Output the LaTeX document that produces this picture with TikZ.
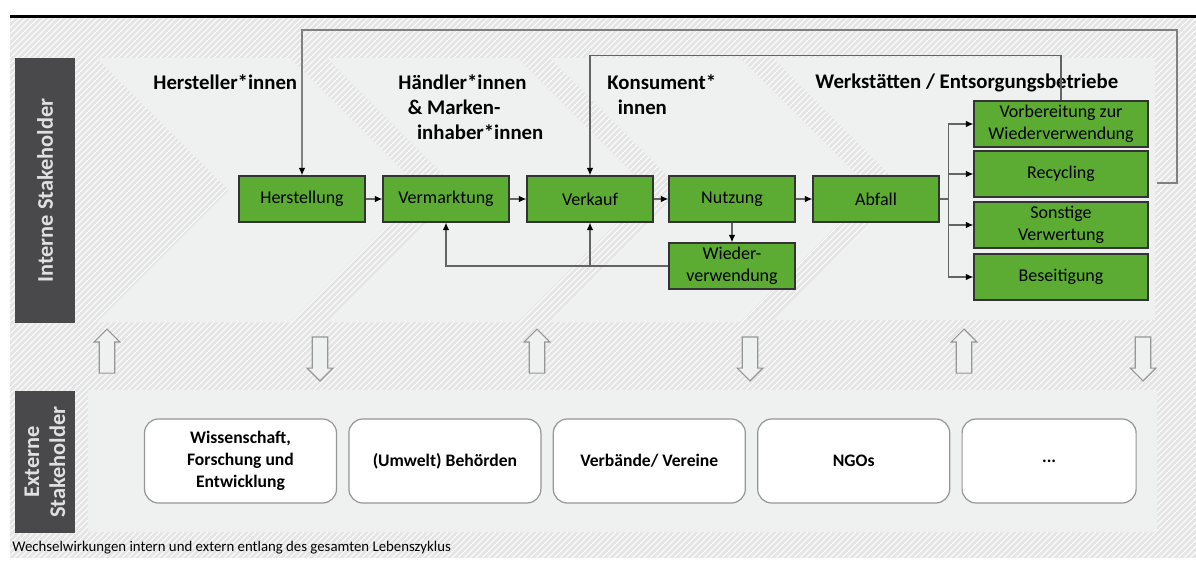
\documentclass[tikz,border=0pt]{standalone}
\usepackage{fontspec}
\setmainfont{Carlito}
\usetikzlibrary{shapes.arrows, arrows.meta, patterns, positioning}

\definecolor{boxgreen}{RGB}{92,172,52}
\definecolor{barcol}{RGB}{73,73,75}
\definecolor{panel}{RGB}{239,240,240}
\definecolor{hatchbase}{RGB}{229,229,229}
\definecolor{linegray}{RGB}{100,100,100}
\definecolor{framegray}{RGB}{150,150,150}

\tikzstyle{stage} = [rectangle, minimum width=63pt, minimum height=23pt, inner sep=1pt, text centered, align=center, draw=black!80, line width=0.6pt, fill=boxgreen, font=\fontsize{9}{11}\selectfont]
\tikzstyle{route} = [stage, minimum width=87pt]
\tikzstyle{extern} = [rectangle, rounded corners=7pt, minimum width=96pt, minimum height=42pt, align=center, draw=framegray, line width=0.6pt, fill=white, font=\bfseries\fontsize{8.8}{11}\selectfont]
\tikzstyle{role} = [align=left, anchor=north west, inner sep=0pt, font=\bfseries\fontsize{10.4}{12.5}\selectfont]
\tikzstyle{sidebar} = [rectangle, fill=barcol, text=white!88!black, inner sep=0pt, align=center, font=\bfseries\fontsize{11.2}{13}\selectfont]
\tikzstyle{blockup} = [single arrow, shape border rotate=90, draw=framegray, fill=panel, minimum height=22pt, minimum width=12.5pt, inner sep=3.6pt, single arrow head extend=2.5pt, line width=0.6pt]
\tikzstyle{blockdown} = [blockup, shape border rotate=270]
\tikzstyle{arrow} = [-{Latex[black, length=3.8pt, width=3.3pt]}, draw=linegray, line width=0.6pt]

\begin{document}
\begin{tikzpicture}[x=0.5pt, y=-0.5pt]
	\useasboundingbox (0,0) rectangle (1196,584);
	% background
	\fill[hatchbase] (10,18) rectangle (1196,558);
	\fill[pattern=north east lines, pattern color=white] (10,18) rectangle (1196,558);
	\draw[line width=1.5pt] (10,16) -- (1196,16);
	\fill[panel] (97,58) -- (290,58) -- (422,190) -- (290,322) -- (97,322) -- (229,190) -- cycle;
	\fill[panel] (327,58) -- (517,58) -- (649,190) -- (517,322) -- (327,322) -- (459,190) -- cycle;
	\fill[panel] (550,58) -- (740,58) -- (872,190) -- (740,322) -- (550,322) -- (682,190) -- cycle;
	\fill[panel] (773,58) -- (1155,58) -- (1155,320) -- (773,320) -- (905,190) -- cycle;
	\fill[panel] (88,390) rectangle (1157,532);

	\node (intbar) [sidebar, rotate=90, minimum width=132.5pt, minimum height=30pt] at (45,190.5) {Interne Stakeholder};
	\node (extbar) [sidebar, rotate=90, minimum width=71pt, minimum height=30pt] at (45,462) {Externe\\Stakeholder};

	% stakeholder groups
	\node (herlab) [role] at (153,74) {Hersteller*innen};
	\node (haendlab) [role] at (398,74) {Händler*innen\\\hspace*{0.45em}\& Marken-\\\hspace*{0.9em}inhaber*innen};
	\node (konslab) [role] at (607,74) {Konsument*\\\hspace*{0.5em}innen};
	\node (werklab) [role] at (815,74) {Werkstätten / Entsorgungsbetriebe};

	% life cycle
	\node (herst) [stage] at (302,199) {Herstellung};
	\node (verm) [stage, right of=herst, node distance=72pt] {Vermarktung};
	\node (verk) [stage, right of=verm, node distance=72pt] {Verkauf};
	\node (nutz) [stage, right of=verk, node distance=71pt] {Nutzung};
	\node (abf) [stage, right of=nutz, node distance=72pt] {Abfall};
	\node (wieder) [stage, below of=nutz, node distance=33.5pt] {Wieder-\\verwendung};
	\node (vorb) [route] at (1061,124) {Vorbereitung zur\\Wiederverwendung};
	\node (recyc) [route, below of=vorb, node distance=25pt] {Recycling};
	\node (sonst) [route, below of=recyc, node distance=25.5pt] {Sonstige\\Verwertung};
	\node (beseit) [route, below of=sonst, node distance=26pt] {Beseitigung};

	\draw [arrow](herst) -- (verm);
	\draw [arrow](verm) -- (verk);
	\draw [arrow](verk) -- (nutz);
	\draw [arrow](nutz) -- (abf);
	\draw [arrow](nutz) -- (wieder);
	\draw [arrow](wieder.west) -| (verm.south);
	\coordinate (wiederjoin) at (wieder.west -| verk.south);
	\draw [arrow](wiederjoin) -- (verk.south);
	\draw [arrow](abf.east) -- ++(9,0) |- (vorb.west);
	\draw [arrow](abf.east) -- ++(9,0) |- (recyc.west);
	\draw [arrow](abf.east) -- ++(9,0) |- (sonst.west);
	\draw [arrow](abf.east) -- ++(9,0) |- (beseit.west);
	\draw [arrow](vorb.north) -- ++(0,-45) -| (verk.north);
	\coordinate (recout) at (1157,183);
	\coordinate (loopcorner) at (1177,30);
	\draw [arrow, draw=gray](recout) -| (loopcorner) -| (herst.north);

	% interactions
	\node (up1) [blockup] at (107,355) {};
	\node (down1) [blockdown] at (320,355) {};
	\node (up2) [blockup] at (537,355) {};
	\node (down2) [blockdown] at (750,355) {};
	\node (up3) [blockup] at (964,355) {};
	\node (down3) [blockdown] at (1143,355) {};

	% external stakeholders
	\node (wiss) [extern] at (240.5,461) {Wissenschaft,\\Forschung und\\Entwicklung};
	\node (behoe) [extern, right=5.6pt of wiss] {(Umwelt) Behörden};
	\node (verb) [extern, right=5.6pt of behoe] {Verbände/ Vereine};
	\node (ngo) [extern, right=5.6pt of verb] {NGOs};
	\node (etc) [extern, right=5.6pt of ngo, minimum width=87pt] {...};

	\node (caption) [anchor=west, inner sep=0pt, font=\fontsize{7.4}{9}\selectfont] at (12,548) {Wechselwirkungen intern und extern entlang des gesamten Lebenszyklus};
\end{tikzpicture}
\end{document}
